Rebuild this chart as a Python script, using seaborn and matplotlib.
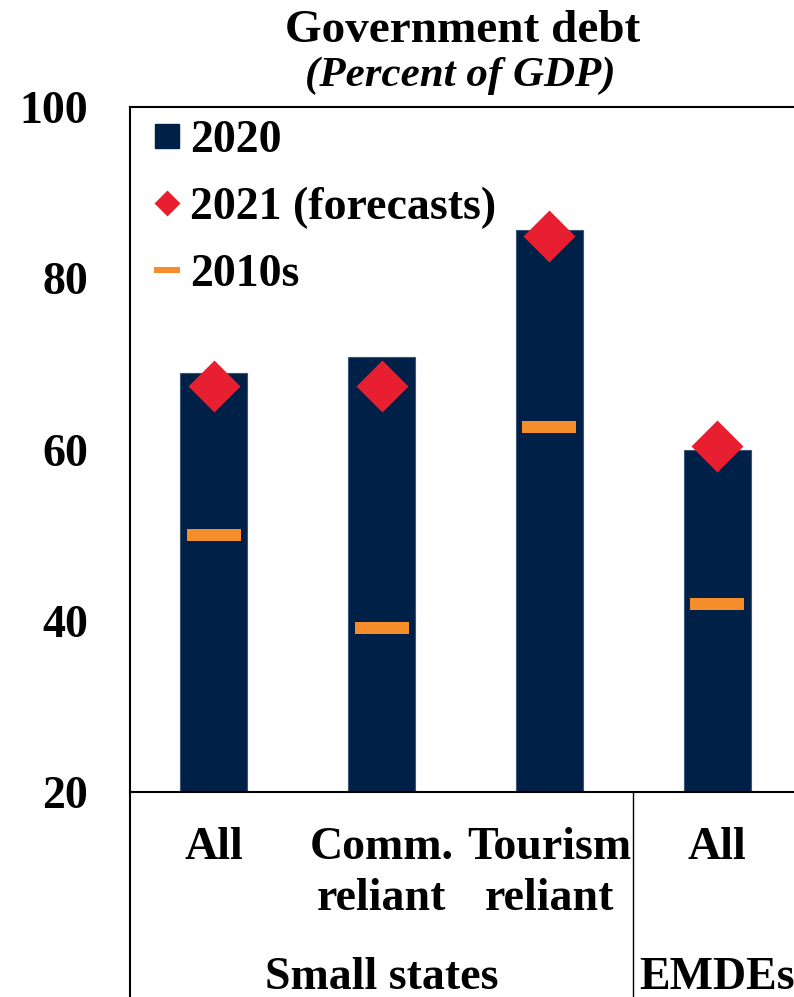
import numpy as np
import pandas as pd
import matplotlib
matplotlib.use("Agg")
import matplotlib.pyplot as plt
from matplotlib.markers import MarkerStyle
from matplotlib.path import Path
from matplotlib.lines import Line2D
import seaborn as sns

# Government debt, percent of GDP
keys = ["Small states: All", "Small states: Comm. reliant",
        "Small states: Tourism reliant", "EMDEs: All"]
tick_labels = ["All", "Comm.\nreliant", "Tourism\nreliant", "All"]
groups = ["Small states", "EMDEs"]
group_centers = [1, 3]
debt_2020 = [68.9, 70.8, 85.6, 59.9]
debt_2021 = [67.4, 67.4, 84.9, 60.4]
debt_2010s = [50.0, 39.1, 62.6, 42.0]
y_ticks = [20, 40, 60, 80, 100]

NAVY = "#002147"
RED = "#E81F30"
ORANGE = "#F68D2B"

sns.set_theme(style="white")
plt.rcParams["font.family"] = ["Liberation Serif", "DejaVu Serif"]
plt.rcParams["font.weight"] = "bold"
plt.rcParams["text.color"] = "black"
plt.rcParams["xtick.color"] = "black"
plt.rcParams["ytick.color"] = "black"
plt.rcParams["xtick.labelcolor"] = "black"
plt.rcParams["ytick.labelcolor"] = "black"

df = pd.DataFrame({"key": keys, "y2020": debt_2020,
                   "y2021": debt_2021, "y2010s": debt_2010s})

fig = plt.figure(figsize=(7.94, 9.97), dpi=100)
ax = fig.add_axes([130 / 794, 1 - 792 / 997, 671 / 794, 685 / 997])

sns.barplot(data=df, x="key", y="y2020", order=keys, color=NAVY,
            width=0.4, saturation=1, edgecolor="#3b5576", linewidth=0.8,
            ax=ax, zorder=2)

diamond = MarkerStyle(Path([(0, 1), (1, 0), (0, -1), (-1, 0), (0, 1)]))
dash = MarkerStyle(Path([(-1, -0.204), (1, -0.204), (1, 0.204),
                         (-1, 0.204), (-1, -0.204)]))

sns.scatterplot(data=df, x="key", y="y2010s", marker=dash, s=38.9 ** 2,
                color=ORANGE, linewidth=0, ax=ax, zorder=3)
sns.scatterplot(data=df, x="key", y="y2021", marker=diamond, s=37.4 ** 2,
                color=RED, linewidth=0, ax=ax, zorder=4)

ax.set_xlim(-0.5, 3.5)
ax.set_ylim(20, 100)
ax.set_yticks(y_ticks)
ax.set_yticklabels([str(v) for v in y_ticks], fontsize=33, fontweight="bold",
                   color="black")
ax.set_xticks(range(len(keys)))
ax.set_xticklabels(tick_labels, fontsize=33, fontweight="bold",
                   linespacing=1.28, color="black")
ax.tick_params(axis="y", length=0, pad=30)
ax.tick_params(axis="x", length=0, pad=25)
ax.set_xlabel("")
ax.set_ylabel("")

for side in ["left", "top", "bottom"]:
    ax.spines[side].set_color("black")
    ax.spines[side].set_linewidth(1.5)
ax.spines["right"].set_visible(False)

# Group separators below the axis
for xs in [-0.5, 2.5]:
    ax.plot([xs, xs], [0, -0.32], transform=ax.get_xaxis_transform(),
            color="black", lw=1.5 if xs < 0 else 1.0, clip_on=False,
            solid_capstyle="butt")

for name, cx in zip(groups, group_centers):
    ax.text(cx, -0.287, name, transform=ax.get_xaxis_transform(),
            ha="center", va="baseline", fontsize=33, fontweight="bold",
            color="black", clip_on=False)

# Title and subtitle
ax.text(0.495, 1.095, "Government debt", transform=ax.transAxes,
        ha="center", va="baseline", fontsize=34, fontweight="bold",
        color="black")
ax.text(0.493, 1.030, "(Percent of GDP)", transform=ax.transAxes,
        ha="center", va="baseline", fontsize=31, fontweight="bold",
        fontstyle="italic", color="black")

handles = [
    Line2D([], [], marker="s", linestyle="", color=NAVY, markersize=17.3),
    Line2D([], [], marker=diamond, linestyle="", color=RED,
           markersize=18.7, markeredgewidth=0),
    Line2D([], [], marker=dash, linestyle="", color=ORANGE,
           markersize=19.4, markeredgewidth=0),
]
labels = ["2020", "2021 (forecasts)", "2010s"]
leg = ax.legend(handles, labels, loc="upper left",
                bbox_to_anchor=((144 - 130) / 671, 1 - 13 / 685),
                frameon=False, prop={"weight": "bold", "size": 33},
                handlelength=1.0, handletextpad=0.0, labelspacing=0.54,
                borderpad=0, borderaxespad=0)
for t in leg.get_texts():
    t.set_color("black")

fig.savefig("out.png", dpi=100)
